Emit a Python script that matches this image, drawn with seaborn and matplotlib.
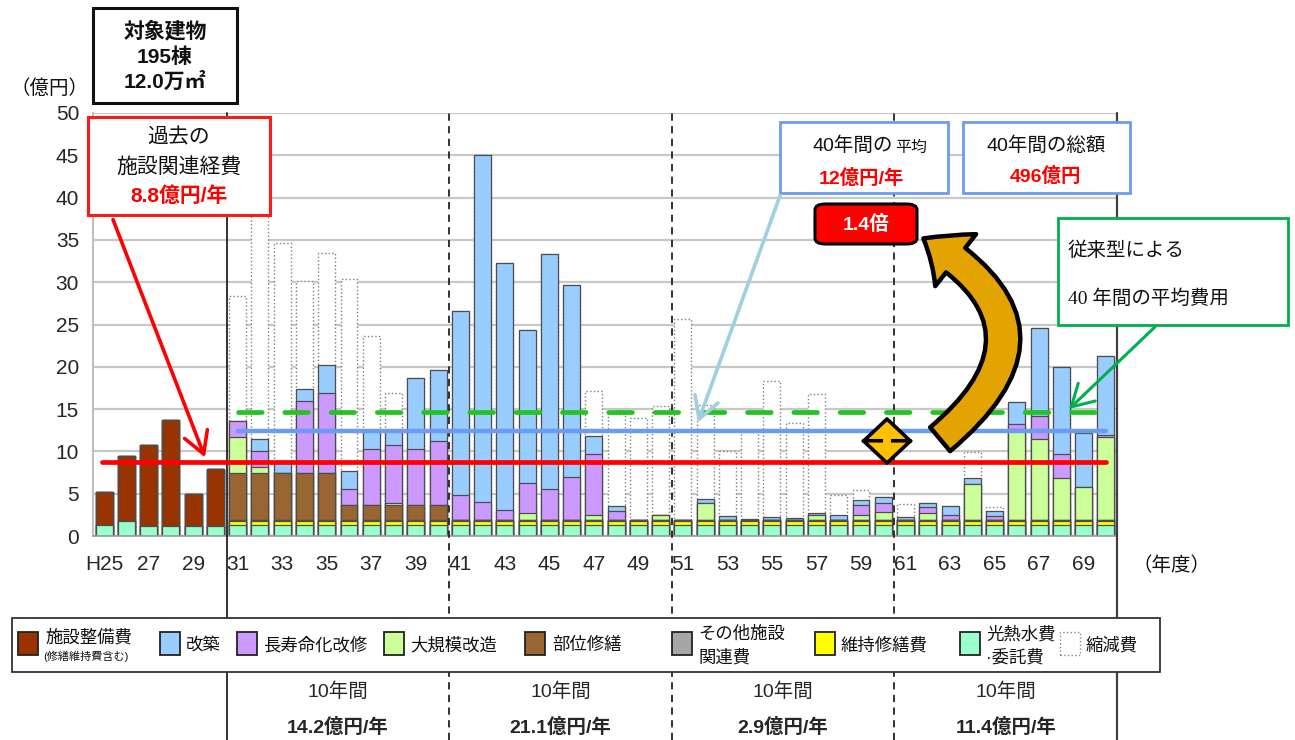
import numpy as np
import pandas as pd
import matplotlib
matplotlib.use("Agg")
import matplotlib.pyplot as plt
import matplotlib.transforms as mtransforms
import seaborn as sns
from matplotlib.patches import Rectangle, FancyBboxPatch, FancyArrowPatch, ArrowStyle

# ---------------- data (億円) ----------------
years = ["H25", "H26", "H27", "H28", "H29", "H30",
         "H31", "H32", "H33", "H34", "H35", "H36", "H37", "H38", "H39", "H40",
         "H41", "H42", "H43", "H44", "H45", "H46", "H47", "H48", "H49", "H50",
         "H51", "H52", "H53", "H54", "H55", "H56", "H57", "H58", "H59", "H60",
         "H61", "H62", "H63", "H64", "H65", "H66", "H67", "H68", "H69", "H70"]
tick_labels = ["H25", "", "27", "", "29", "",
               "31", "", "33", "", "35", "", "37", "", "39", "",
               "41", "", "43", "", "45", "", "47", "", "49", "",
               "51", "", "53", "", "55", "", "57", "", "59", "",
               "61", "", "63", "", "65", "", "67", "", "69", ""]

utility = [1.3, 1.8, 1.2, 1.2, 1.2, 1.2,
           1.3, 1.3, 1.3, 1.3, 1.3, 1.3, 1.3, 1.3, 1.3, 1.3,
           1.3, 1.3, 1.3, 1.3, 1.3, 1.3, 1.3, 1.3, 1.3, 1.3,
           1.3, 1.3, 1.3, 1.3, 1.3, 1.3, 1.3, 1.3, 1.3, 1.3,
           1.3, 1.3, 1.3, 1.3, 1.3, 1.3, 1.3, 1.3, 1.3, 1.3]
maintenance = [0, 0, 0, 0, 0, 0,
               0.5, 0.5, 0.5, 0.5, 0.5, 0.5, 0.5, 0.5, 0.5, 0.5,
               0.5, 0.5, 0.5, 0.5, 0.5, 0.5, 0.5, 0.5, 0.5, 0.5,
               0.5, 0.5, 0.5, 0.5, 0.5, 0.5, 0.5, 0.5, 0.5, 0.5,
               0.5, 0.5, 0.5, 0.5, 0.5, 0.5, 0.5, 0.5, 0.5, 0.5]
other = [0, 0, 0, 0, 0, 0,
         0.1, 0.1, 0.1, 0.1, 0.1, 0.1, 0.1, 0.1, 0.1, 0.1,
         0.1, 0.1, 0.1, 0.1, 0.1, 0.1, 0.1, 0.1, 0.1, 0.1,
         0.1, 0.1, 0.1, 0.1, 0.1, 0.1, 0.1, 0.1, 0.1, 0.1,
         0.1, 0.1, 0.1, 0.1, 0.1, 0.1, 0.1, 0.1, 0.1, 0.1]
facility_past = [3.9, 7.7, 9.6, 12.5, 3.75, 6.7,
                 0, 0, 0, 0, 0, 0, 0, 0, 0, 0,
                 0, 0, 0, 0, 0, 0, 0, 0, 0, 0,
                 0, 0, 0, 0, 0, 0, 0, 0, 0, 0,
                 0, 0, 0, 0, 0, 0, 0, 0, 0, 0]
part_repair = [0, 0, 0, 0, 0, 0,
               5.5, 5.5, 5.5, 5.5, 5.5, 1.73, 1.73, 1.73, 1.73, 1.73,
               0, 0, 0, 0, 0, 0, 0, 0, 0, 0,
               0, 0, 0, 0, 0, 0, 0, 0, 0, 0,
               0, 0, 0, 0, 0, 0, 0, 0, 0, 0]
major_renov = [0, 0, 0, 0, 0, 0,
               4.3, 0.7, 0, 0, 0, 0, 0, 0.3, 0, 0,
               0, 0, 0, 0.8, 0, 0, 0.55, 0, 0, 0.55,
               0, 2.05, 0, 0, 0, 0, 0.6, 0, 0.55, 0.95,
               0, 0.85, 0, 4.2, 0, 10.8, 9.55, 5.0, 3.9, 9.8]
life_ext = [0, 0, 0, 0, 0, 0,
            1.9, 2.0, 0, 8.6, 9.45, 1.87, 6.7, 6.8, 6.7, 7.6,
            3.0, 2.1, 1.15, 3.6, 3.6, 5.1, 7.2, 1.05, 0, 0,
            0, 0, 0, 0, 0, 0, 0, 0, 1.2, 1.0,
            0, 0.65, 0.55, 0, 0.45, 0.5, 2.75, 2.8, 0, 0.25]
rebuild = [0, 0, 0, 0, 0, 0,
           0, 1.35, 1.3, 1.4, 3.35, 2.2, 2.05, 1.65, 8.4, 8.35,
           21.7, 41.0, 29.2, 18.05, 27.8, 22.7, 2.2, 0.6, 0, 0,
           0, 0.4, 0.45, 0.1, 0.35, 0.2, 0.25, 0.6, 0.6, 0.75,
           0.3, 0.5, 1.1, 0.8, 0.55, 2.6, 10.4, 10.25, 6.4, 9.35]
reduction = [0, 0, 0, 0, 0, 0,
             14.8, 28.5, 25.9, 12.8, 13.3, 22.7, 11.3, 4.5, 0, 0,
             0, 0, 0, 0, 0, 0, 5.25, 10.85, 12.0, 12.95,
             23.75, 11.15, 7.7, 10.3, 16.1, 11.2, 14.05, 2.3, 1.2, 0,
             1.55, 0, 0, 3.05, 0.5, 0, 0, 0, 0, 0]

past_avg = 8.8
plan_avg = 12.4
conv_avg = 14.6
decade_titles = ["10年間", "10年間", "10年間", "10年間"]
decade_values = ["14.2億円/年", "21.1億円/年", "2.9億円/年", "11.4億円/年"]

legend_labels = ["施設整備費", "改築", "長寿命化改修", "大規模改造", "部位修繕",
                 "その他施設\n関連費", "維持修繕費", "光熱水費\n·委託費", "縮減費"]

# ---------------- style ----------------
sns.set_theme(style="white")
plt.rcParams["font.family"] = ["Liberation Sans", "Noto Sans CJK JP", "DejaVu Sans"]

W, H = 1295, 740
fig = plt.figure(figsize=(W / 100, H / 100), dpi=100)
fig.patch.set_facecolor("white")
ax = fig.add_axes([93 / W, 1 - 536 / H, (1117 - 93) / W, (536 - 113) / H])
ax.set_facecolor("white")

layers = [
    ("utility", utility, "#99ffcc", "-"),
    ("maintenance", maintenance, "#ffff00", "-"),
    ("other", other, "#a6a6a6", "-"),
    ("facility_past", facility_past, "#993300", "-"),
    ("part_repair", part_repair, "#996633", "-"),
    ("major_renov", major_renov, "#ccff99", "-"),
    ("life_ext", life_ext, "#cc99ff", "-"),
    ("rebuild", rebuild, "#99ccff", "-"),
    ("reduction", reduction, "#ffffff", ":"),
]
df = pd.DataFrame({"year": years})
cum = np.zeros(len(years))
for name, vals, col, ls in layers:
    cum = cum + np.array(vals, dtype=float)
    df[name] = cum.copy()

# draw cumulative stacks from top layer down (overdraw)
for name, vals, col, ls in reversed(layers):
    ec = "#7f7f7f" if name == "reduction" else "#4d4d4d"
    lw = 1.0 if name == "reduction" else 0.9
    sns.barplot(data=df, x="year", y=name, order=years, color=col,
                saturation=1, edgecolor=ec, linewidth=lw, linestyle=ls,
                width=0.76, errorbar=None, ax=ax, zorder=2)

ax.set_xlim(-0.5, len(years) - 0.5)
ax.set_ylim(0, 50)
ax.set_yticks(np.arange(0, 51, 5))
ax.set_yticklabels([str(v) for v in range(0, 51, 5)], fontsize=15)
ax.set_xticks(np.arange(len(years)))
ax.set_xticklabels(tick_labels, fontsize=15)
ax.set_xticks(np.arange(-0.5, len(years), 1), minor=True)
ax.tick_params(axis="x", which="major", length=0, pad=14)
ax.tick_params(axis="x", which="minor", length=5, color="#9a9a9a", width=1, direction="out")
ax.tick_params(axis="y", which="major", length=6, color="#bfbfbf", width=1.5, pad=4)
ax.set_xlabel("")
ax.set_ylabel("")
ax.yaxis.grid(True, color="#c8c8c8", linewidth=1.6)
ax.set_axisbelow(True)
for s in ["top", "right"]:
    ax.spines[s].set_visible(False)
ax.spines["left"].set_color("#bfbfbf")
ax.spines["left"].set_linewidth(1.5)
ax.spines["bottom"].set_color("#9a9a9a")
ax.spines["bottom"].set_linewidth(1.2)

# decade separators extending below into the summary table
low = -(740 - 536) / (536 - 113)
ax.axvline(5.5, ymin=low, ymax=1, color="#222222", lw=1.3, clip_on=False, zorder=3)
for xv in (15.5, 25.5, 35.5):
    ax.axvline(xv, ymin=low, ymax=1, color="#222222", lw=1.3, ls=(0, (4, 3)),
               clip_on=False, zorder=3)
ax.axvline(45.5, ymin=low, ymax=1, color="#404040", lw=1.6, clip_on=False, zorder=3)

# average lines
ax.plot([-0.1, 45], [past_avg, past_avg], color="#ff0000", lw=3.4, zorder=6)
ax.plot([6, 45], [plan_avg, plan_avg], color="#6c9bf2", lw=3.2, zorder=6,
        solid_capstyle="round")
ax.plot([6, 45], [conv_avg, conv_avg], color="#22c322", lw=3.4, zorder=6,
        dashes=(5.0, 4.8), dash_capstyle="round")

# summary table under legend
bt = mtransforms.blended_transform_factory(ax.transData, ax.transAxes)
for i, (t1, t2) in enumerate(zip(decade_titles, decade_values)):
    xc = 10.5 + 10 * i
    ax.text(xc, -(692 - 536) / 423, t1, transform=bt, ha="center", va="center",
            fontsize=14, clip_on=False)
    ax.text(xc, -(727 - 536) / 423, t2, transform=bt, ha="center", va="center",
            fontsize=14, fontweight="bold", clip_on=False)

# ---------------- figure-level helpers (pixel coords, y down) ----------------
def fx(x):
    return x / W


def fy(y):
    return 1 - y / H


def box(x0, y0, x1, y1, ec, lw=2.0, fc="white", rounded=False, z=7):
    style = "round,pad=0,rounding_size=0.008" if rounded else "square,pad=0"
    p = FancyBboxPatch((fx(x0), fy(y1)), fx(x1) - fx(x0), fy(y0) - fy(y1),
                       boxstyle=style, transform=fig.transFigure,
                       ec=ec, fc=fc, lw=lw, zorder=z)
    fig.add_artist(p)


def txt(x, y, s, size=14, color="#111111", weight="normal", ha="center", family=None, z=8):
    kw = {}
    if family is not None:
        kw["family"] = family
    fig.text(fx(x), fy(y), s, ha=ha, va="center", fontsize=size, color=color,
             fontweight=weight, zorder=z, **kw)


def arrow(x0, y0, x1, y1, color, lw=2.5, z=9):
    a = FancyArrowPatch((fx(x0), fy(y0)), (fx(x1), fy(y1)), transform=fig.transFigure,
                        arrowstyle="->,head_length=0.7,head_width=0.4", mutation_scale=22,
                        color=color, lw=lw, zorder=z)
    fig.add_artist(a)


# building box
box(93, 8, 237, 103, "#111111", lw=2.2)
txt(165, 31, "対象建物", 15, weight="bold")
txt(165, 57, "195棟", 15, weight="bold")
txt(165, 82, "12.0万㎡", 15, weight="bold")
txt(50, 89, "（億円）", 14)
txt(1172, 566, "（年度）", 14)

# past cost box
box(88, 117, 270, 215, "#ff1a1a", lw=2.2)
txt(179, 138, "過去の", 15)
txt(179, 167, "施設関連経費", 15)
txt(179, 196, "8.8億円/年", 15, color="#ff0000", weight="bold")
arrow(112, 217, 206, 460, "#ff0000", lw=2.6)

# 40-year average box
box(780, 122, 948, 193, "#6c9bf2", lw=2.0)
txt(893, 146, "40年間の", 14, ha="right")
txt(895, 147, "平均", 11.5, ha="left")
txt(862, 178, "12億円/年", 14, color="#ff0000", weight="bold")
arrow(781, 193, 697, 425, "#9fd0e0", lw=2.6)

# 40-year total box
box(963, 122, 1130, 193, "#6c9bf2", lw=2.0)
txt(1046, 146, "40年間の総額", 14)
txt(1046, 176, "496億円", 14, color="#ff0000", weight="bold")

# 1.4x box
box(815, 204, 917, 244, "#000000", lw=2.2, fc="#ff0000", rounded=True)
txt(866, 224, "1.4倍", 14, color="white", weight="bold", z=9)

# conventional box
box(1058, 218, 1288, 325, "#00b050", lw=2.0)
txt(1068, 251, "従来型による", 14, ha="left",
    family=["Liberation Serif", "Noto Sans CJK JP"])
txt(1068, 299, "40 年間の平均費用", 14, ha="left",
    family=["Liberation Serif", "Noto Sans CJK JP"])
arrow(1157, 325, 1067, 411, "#00b050", lw=2.2)

# big curved yellow arrow
big = FancyArrowPatch((fx(938), fy(441)), (fx(921), fy(237)), transform=fig.transFigure,
                      connectionstyle="arc3,rad=0.72",
                      arrowstyle=ArrowStyle("simple", head_length=1.0, head_width=1.7,
                                            tail_width=0.8),
                      mutation_scale=28, fc="#e3a300", ec="#000000", lw=3.2, zorder=9)
fig.add_artist(big)

# small double arrow between averages (two gold heads with black outline)
for y_end in (419, 463):
    half = FancyArrowPatch((fx(887), fy(441)), (fx(887), fy(y_end)),
                           transform=fig.transFigure,
                           arrowstyle=ArrowStyle("simple", head_length=0.8, head_width=1.7,
                                                 tail_width=0.45),
                           mutation_scale=20, fc="#ffc000", ec="#000000", lw=2.6,
                           shrinkA=0, shrinkB=0, zorder=9)
    fig.add_artist(half)
mid = Rectangle((fx(883), fy(447)), fx(8), 12 / H, transform=fig.transFigure,
                fc="#ffc000", ec="none", zorder=10)
fig.add_artist(mid)

# ---------------- legend (manual, figure coords) ----------------
box(12, 618, 1160, 672, "#333333", lw=1.3, z=7)
items = [
    (18, "#993300", "-", 45),
    (160, "#99ccff", "-", 186),
    (237, "#cc99ff", "-", 263),
    (384, "#ccff99", "-", 410),
    (525, "#996633", "-", 552),
    (672, "#a6a6a6", "-", 698),
    (815, "#ffff00", "-", 841),
    (960, "#99ffcc", "-", 986),
    (1060, "#ffffff", ":", 1086),
]
for (sx, col, ls, tx), lab in zip(items, legend_labels):
    r = Rectangle((fx(sx), fy(655)), fx(20), (655 - 632) / H,
                  transform=fig.transFigure, fc=col,
                  ec="#222222" if ls == "-" else "#888888", lw=1.3 if ls == "-" else 1.0,
                  ls=ls, zorder=8)
    fig.add_artist(r)
    if lab == "施設整備費":
        txt(tx, 637, lab, 12.5, ha="left")
        txt(tx - 2, 656, "(修繕維持費含む)", 8, ha="left")
    elif "\n" in lab:
        l1, l2 = lab.split("\n")
        txt(tx, 634, l1, 12.5, ha="left")
        txt(tx, 657, l2, 12.5, ha="left")
    else:
        txt(tx, 645, lab, 12.5, ha="left")

fig.savefig("out.png", dpi=100, facecolor="white")
